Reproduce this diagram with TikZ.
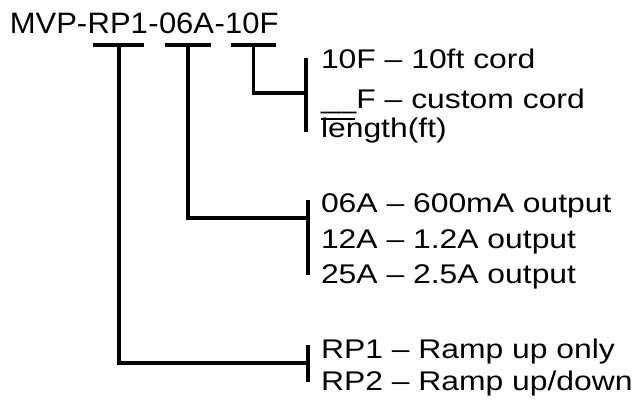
\documentclass[tikz,border=0pt]{standalone}
\usepackage{fontspec}
\setmainfont{Liberation Sans}
\newfontfamily\codefont{Liberation Sans}[FakeStretch=1.05]
\newfontfamily\optfont{Liberation Sans}[FakeStretch=1.18]
\usetikzlibrary{
  positioning
}
\tikzset{
  codepart/.style={inner sep=0pt,text depth=0pt,font=\codefont\fontsize{29.5}{32}\selectfont},
  optline/.style={inner sep=0pt,anchor=base west,font=\optfont\fontsize{27}{30}\selectfont},
  leader/.style={line width=3.8pt,draw=black},
  bracket/.style={line width=3.8pt,draw=black}
}

\begin{document}
\begin{tikzpicture}[x=1pt,y=-1pt]
\useasboundingbox (0,0) rectangle (637,399);
% part number
\node[codepart,anchor=base west] (mvp) at (9.6,33) {MVP-};
\node[codepart,base right=0pt of mvp] (rp) {RP1};
\node[codepart,base right=0pt of rp] (dasha) {-};
\node[codepart,base right=0pt of dasha] (amp) {06A};
\node[codepart,base right=0pt of amp] (dashb) {-};
\node[codepart,base right=0pt of dashb] (cord) {10F};
\draw[leader] ([shift={(6,12)}]rp.south west) -- ([shift={(-4,12)}]rp.south east);
\draw[leader] ([shift={(6,12)}]amp.south west) -- ([shift={(-3,12)}]amp.south east);
\draw[leader] ([shift={(6,12)}]cord.south west) -- ([shift={(-3,12)}]cord.south east);
\coordinate (rptop) at ([shift={(1.5,12)}]rp.south);
\coordinate (amptop) at ([shift={(1.5,12)}]amp.south);
\coordinate (cordtop) at ([shift={(1.5,12)}]cord.south);
% cord options
\node[optline] (c1) at (320.8,68) {10F – 10ft cord};
\node[optline] (c2) at ([shift={(0,40)}]c1.base west) {\_\_F – custom cord};
\node[optline] (c3) at ([shift={(0,29)}]c2.base west) {\rlap{\rule[17.5pt]{34pt}{1.8pt}}length(ft)};
\draw[bracket] ([shift={(-15,-10)}]c1.base west) -- ([shift={(-15,-5)}]c3.base west);
\draw[leader] (cordtop) |- ([shift={(-15,25)}]c1.base west);
% output options
\node[optline] (a1) at (320.8,212) {06A – 600mA output};
\node[optline] (a2) at ([shift={(0,36)}]a1.base west) {12A – 1.2A output};
\node[optline] (a3) at ([shift={(0,35)}]a2.base west) {25A – 2.5A output};
\draw[bracket] ([shift={(-13,-12)}]a1.base west) -- ([shift={(-13,-8)}]a3.base west);
\draw[leader] (amptop) |- ([shift={(-13,6)}]a1.base west);
% ramp options
\node[optline] (r1) at (320.8,358) {RP1 – Ramp up only};
\node[optline] (r2) at ([shift={(0,32)}]r1.base west) {RP2 – Ramp up/down};
\draw[bracket] ([shift={(-13,-13)}]r1.base west) -- ([shift={(-13,-8)}]r2.base west);
\draw[leader] (rptop) |- ([shift={(-13,5)}]r1.base west);
\end{tikzpicture}
\end{document}
